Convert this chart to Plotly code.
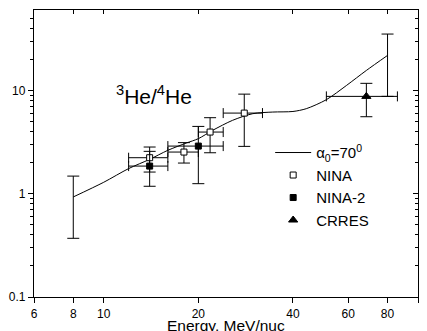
import numpy as np
import plotly.graph_objects as go

# Model curve alpha0 = 70 deg
curve_x = [8, 10, 12, 14, 16, 18.3, 20, 22.2, 25.7, 29.8, 34.5, 40, 44.1, 51.1, 59.3, 68.5, 80]
curve_y = [0.93, 1.29, 1.75, 2.15, 2.63, 3.09, 3.41, 4.1, 5.13, 5.95, 6.17, 6.25, 6.65, 8.13, 11.2, 15.6, 21.8]

# Curve uncertainty bars at ends
cerr_x = [8, 80]
cerr_y = [0.93, 21.8]
cerr_up = [1.48, 35.1]
cerr_lo = [0.37, 8.75]

# NINA (open squares)
nina_x = [14, 18, 21.8, 28]
nina_y = [2.23, 2.53, 3.95, 6.03]
nina_yup = [2.83, 3.12, 5.44, 9.2]
nina_ylo = [1.62, 1.98, 2.49, 2.87]
nina_xlo = [12, 16, 20, 24]
nina_xhi = [16, 20, 24, 32]

# NINA-2 (filled squares)
nina2_x = [14, 20]
nina2_y = [1.85, 2.89]
nina2_yup = [2.57, 4.48]
nina2_ylo = [1.18, 1.25]
nina2_xlo = [12, 16]
nina2_xhi = [16, 24]

# CRRES (triangle)
crres_x = [68.5]
crres_y = [8.75]
crres_yup = [11.7]
crres_ylo = [5.56]
crres_xlo = [51.1]
crres_xhi = [86]

x_ticks = [6, 8, 10, 20, 40, 60, 80, 100]
y_ticks = [0.1, 1, 10]
y_ticktext = ["0.1", "1", "10"]
y_minor = [0.2, 0.3, 0.4, 0.5, 0.6, 0.7, 0.8, 0.9, 2, 3, 4, 5, 6, 7, 8, 9, 20, 30, 40, 50]


def ebars(c, up, lo):
    return dict(type="data", symmetric=False,
                array=[u - v for u, v in zip(up, c)],
                arrayminus=[v - l for v, l in zip(c, lo)],
                color="black", thickness=1)


fig = go.Figure()

fig.add_trace(go.Scatter(
    x=curve_x, y=curve_y, mode="lines",
    line=dict(color="black", width=1, shape="spline", smoothing=0.8),
    name="α<sub>0</sub>=70<sup>0</sup>", legendgroup="a"))

ey = ebars(cerr_y, cerr_up, cerr_lo); ey["width"] = 6
fig.add_trace(go.Scatter(
    x=cerr_x, y=cerr_y, mode="markers",
    marker=dict(size=1, color="rgba(0,0,0,0)"),
    error_y=ey, showlegend=False, hoverinfo="skip"))

for xs, ys, yup, ylo, xlo, xhi, name, sym, col, size, grp in [
    (nina_x, nina_y, nina_yup, nina_ylo, nina_xlo, nina_xhi, "NINA", "square", "white", 6, "b"),
    (nina2_x, nina2_y, nina2_yup, nina2_ylo, nina2_xlo, nina2_xhi, "NINA-2", "square", "black", 6, "c"),
    (crres_x, crres_y, crres_yup, crres_ylo, crres_xlo, crres_xhi, "CRRES", "triangle-up", "black", 8, "d"),
]:
    ey = ebars(ys, yup, ylo); ey["width"] = 6
    ex = ebars(xs, xhi, xlo); ex["width"] = 5
    fig.add_trace(go.Scatter(
        x=xs, y=ys, mode="markers", name=name, legendgroup=grp,
        marker=dict(symbol=sym, size=size, color=col, line=dict(color="black", width=1)),
        error_y=ey, error_x=ex))

# invisible trace so the mirrored (top/right) axes get drawn
fig.add_trace(go.Scatter(
    x=[10], y=[1], xaxis="x2", yaxis="y2", mode="markers",
    marker=dict(size=1, color="rgba(0,0,0,0)"), showlegend=False, hoverinfo="skip"))

fig.add_annotation(
    x=np.log10(10.8), y=np.log10(9.0), xref="x", yref="y",
    text="<sup>3</sup>He/<sup>4</sup>He", showarrow=False,
    xanchor="left", yanchor="middle",
    font=dict(family="Arial", size=21, color="black"))

fig.add_annotation(
    x=0.5, y=-0.098, xref="paper", yref="paper",
    text="Energy, MeV/nuc", showarrow=False,
    xanchor="center", yanchor="middle",
    font=dict(family="Arial", size=15.5, color="black"))

axis_common = dict(type="log", showgrid=False, zeroline=False,
                   showline=True, linecolor="black", linewidth=1.3,
                   tickcolor="black", tickwidth=1)

fig.update_layout(
    width=427, height=331,
    margin=dict(l=34, r=9, t=10, b=34),
    paper_bgcolor="white", plot_bgcolor="white",
    font=dict(family="Arial", size=12, color="black"),
    xaxis=dict(**axis_common, range=[np.log10(6), 2], tickvals=x_ticks,
               ticktext=[str(v) for v in x_ticks], ticks="outside", ticklen=5,
               automargin=False),
    xaxis2=dict(**axis_common, range=[np.log10(6), 2], tickvals=x_ticks,
                ticks="inside", ticklen=4, overlaying="x", side="top",
                showticklabels=False),
    yaxis=dict(**axis_common, range=[-1, np.log10(60)], tickvals=y_ticks,
               ticktext=y_ticktext, ticks="outside", ticklen=5,
               minor=dict(tickvals=y_minor, ticks="outside", ticklen=3, tickcolor="black"),
               automargin=False),
    yaxis2=dict(**axis_common, range=[-1, np.log10(60)], tickvals=y_ticks,
                ticks="inside", ticklen=5, overlaying="y", side="right",
                showticklabels=False,
                minor=dict(tickvals=y_minor, ticks="inside", ticklen=3, tickcolor="black")),
    legend=dict(x=0.615, y=0.56, xanchor="left", yanchor="top",
                bgcolor="rgba(0,0,0,0)", font=dict(size=15),
                traceorder="grouped", tracegroupgap=0, itemwidth=36),
    showlegend=True,
)

fig.write_html("out.html")
